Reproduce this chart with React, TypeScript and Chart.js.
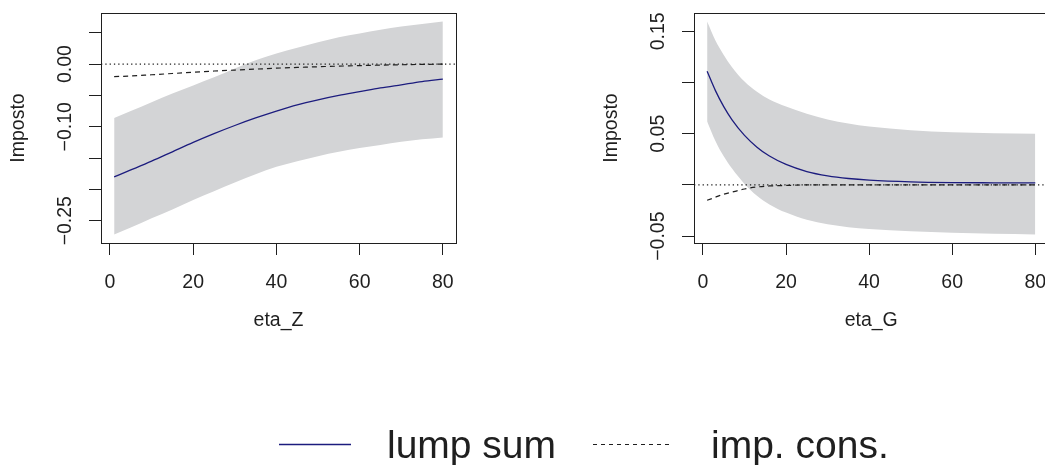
import React, { useEffect, useRef } from "react";
import { Chart, registerables } from "chart.js";

Chart.register(...registerables);

const FONT = "'Liberation Sans', Arial, Helvetica, sans-serif";
const INK = "#1f1f1f";
const BAND = "#d3d4d6";
const NAVY = "#1c1c7e";

// ---------- data: left panel (eta_Z) ----------
const etaZ = [1, 5, 10, 15, 20, 25, 30, 35, 40, 45, 50, 55, 60, 65, 70, 75, 80];
const lumpZ = [-0.180, -0.169, -0.155, -0.140, -0.125, -0.111, -0.098, -0.086, -0.075, -0.065, -0.057, -0.050, -0.044, -0.038, -0.033, -0.028, -0.024];
const consZ = [-0.020, -0.019, -0.017, -0.015, -0.013, -0.011, -0.0095, -0.008, -0.0065, -0.0053, -0.0042, -0.0032, -0.0024, -0.0016, -0.001, -0.0005, 0];
const upperZ = [-0.086, -0.075, -0.061, -0.047, -0.034, -0.021, -0.007, 0.006, 0.017, 0.026, 0.035, 0.043, 0.049, 0.055, 0.060, 0.064, 0.068];
const lowerZ = [-0.272, -0.261, -0.246, -0.232, -0.217, -0.203, -0.189, -0.176, -0.164, -0.155, -0.147, -0.140, -0.134, -0.129, -0.124, -0.120, -0.117];
const yLimZ = [-0.2856, 0.0816];
const yTicksZ = [-0.25, -0.2, -0.15, -0.1, -0.05, 0, 0.05];
const yTickTextZ = ["\u22120.25", "", "", "\u22120.10", "", "0.00", ""];

// ---------- data: right panel (eta_G) ----------
const etaG = [1, 3, 5, 7, 10, 13, 16, 20, 25, 30, 35, 40, 50, 60, 70, 80];
const lumpG = [0.1110, 0.0921, 0.0765, 0.0636, 0.0484, 0.0369, 0.0282, 0.0200, 0.0131, 0.0089, 0.0063, 0.0047, 0.0030, 0.0023, 0.0021, 0.0020];
const consG = [-0.015, -0.012, -0.009, -0.007, -0.004, -0.002, -0.001, -0.0005, 0, 0, 0, 0, 0, 0, 0, 0];
const upperG = [0.1595, 0.1410, 0.1270, 0.1150, 0.1010, 0.0910, 0.0835, 0.0765, 0.0695, 0.0640, 0.0600, 0.0570, 0.0535, 0.0515, 0.0505, 0.0500];
const lowerG = [0.0620, 0.0430, 0.0280, 0.0160, 0.0010, -0.0105, -0.0190, -0.0270, -0.0340, -0.0385, -0.0412, -0.0430, -0.0453, -0.0468, -0.0477, -0.0484];
const yLimG = [-0.0567, 0.1679];
const yTicksG = [-0.05, 0, 0.05, 0.1, 0.15];
const yTickTextG = ["\u22120.05", "", "0.05", "", "0.15"];

// ---------- shared ----------
const xLim = [-2.16, 83.16];
const xTicks = [0, 20, 40, 60, 80];
const xTickText = ["0", "20", "40", "60", "80"];
const yTitle = "Imposto";
const refLine = 0;
const legendLabels = ["lump sum", "imp. cons."];

const boxPlugin = {
  id: "rbox",
  afterDraw(chart: any) {
    const { ctx, chartArea: a } = chart;
    ctx.save();
    ctx.strokeStyle = INK;
    ctx.lineWidth = 1;
    const l = Math.round(a.left) + 0.5;
    const t = Math.round(a.top) + 0.5;
    ctx.strokeRect(l, t, Math.round(a.right) - Math.round(a.left), Math.round(a.bottom) - Math.round(a.top));
    ctx.restore();
  },
};

type PanelProps = {
  left: number;
  width: number;
  height: number;
  xs: number[];
  lump: number[];
  cons: number[];
  upper: number[];
  lower: number[];
  yLim: number[];
  yTicks: number[];
  yTickText: string[];
  xTitle: string;
  area: { left: number; right: number; top: number; bottom: number };
  yTickPad: number;
  yTitlePad: number;
};

function Panel(p: PanelProps) {
  const ref = useRef<HTMLCanvasElement | null>(null);
  useEffect(() => {
    const canvas = ref.current;
    if (!canvas) return;
    const pts = (ys: number[]) => p.xs.map((x, i) => ({ x, y: ys[i] }));
    const tickFont = { family: FONT, size: 19.5 };
    const chart = new Chart(canvas, {
      type: "line",
      data: {
        datasets: [
          {
            label: "zero",
            data: [{ x: xLim[0], y: refLine }, { x: xLim[1], y: refLine }],
            borderColor: INK,
            borderWidth: 1.2,
            borderDash: [1.3, 3],
            pointRadius: 0,
            fill: false,
          },
          {
            label: legendLabels[1],
            data: pts(p.cons),
            borderColor: INK,
            borderWidth: 1.2,
            borderDash: [5, 4],
            pointRadius: 0,
            cubicInterpolationMode: "monotone",
            fill: false,
          },
          {
            label: legendLabels[0],
            data: pts(p.lump),
            borderColor: NAVY,
            borderWidth: 1.3,
            pointRadius: 0,
            cubicInterpolationMode: "monotone",
            fill: false,
          },
          {
            label: "lower",
            data: pts(p.lower),
            borderColor: "rgba(0,0,0,0)",
            borderWidth: 0,
            pointRadius: 0,
            cubicInterpolationMode: "monotone",
            fill: false,
          },
          {
            label: "upper",
            data: pts(p.upper),
            borderColor: "rgba(0,0,0,0)",
            backgroundColor: BAND,
            borderWidth: 0,
            pointRadius: 0,
            cubicInterpolationMode: "monotone",
            fill: "-1",
          },
        ],
      } as any,
      options: {
        animation: false,
        responsive: false,
        events: [],
        layout: {
          padding: { left: 0, top: p.area.top, right: p.width - p.area.right, bottom: 0 },
        },
        plugins: {
          legend: { display: false },
          tooltip: { enabled: false },
          title: { display: false },
        },
        scales: {
          x: {
            type: "linear",
            position: "bottom",
            min: xLim[0],
            max: xLim[1],
            afterBuildTicks: (s: any) => {
              s.ticks = xTicks.map((v) => ({ value: v }));
            },
            afterFit: (s: any) => {
              s.height = p.height - p.area.bottom;
              s.paddingLeft = 0;
              s.paddingRight = 0;
            },
            grid: {
              display: true,
              drawOnChartArea: false,
              drawTicks: true,
              tickLength: 12,
              color: INK,
              lineWidth: 1,
            },
            border: { display: true, color: INK, width: 1 },
            ticks: {
              autoSkip: false,
              maxRotation: 0,
              minRotation: 0,
              padding: 16,
              color: INK,
              font: tickFont,
              callback: (_v: any, i: number) => xTickText[i],
            },
            title: {
              display: true,
              text: p.xTitle,
              color: INK,
              font: tickFont,
              padding: { top: 0, bottom: 17.6 },
            },
          },
          y: {
            type: "linear",
            position: "left",
            min: p.yLim[0],
            max: p.yLim[1],
            afterBuildTicks: (s: any) => {
              s.ticks = p.yTicks.map((v) => ({ value: v }));
            },
            afterFit: (s: any) => {
              s.width = p.area.left;
              s.paddingTop = 0;
              s.paddingBottom = 0;
            },
            grid: {
              display: true,
              drawOnChartArea: false,
              drawTicks: true,
              tickLength: 12,
              color: INK,
              lineWidth: 1,
            },
            border: { display: true, color: INK, width: 1 },
            ticks: {
              autoSkip: false,
              minRotation: 90,
              maxRotation: 90,
              crossAlign: "center",
              padding: p.yTickPad,
              color: INK,
              font: tickFont,
              callback: (_v: any, i: number) => p.yTickText[i],
            },
            title: {
              display: true,
              text: yTitle,
              color: INK,
              font: tickFont,
              padding: { top: p.yTitlePad, bottom: 0 },
            },
          },
        },
      } as any,
      plugins: [boxPlugin],
    });
    return () => chart.destroy();
  }, []);
  return (
    <canvas
      ref={ref}
      width={p.width}
      height={p.height}
      style={{ position: "absolute", left: p.left, top: 0, width: p.width, height: p.height }}
    />
  );
}

export default function App() {
  const legendFont = `39px ${FONT}`;
  return (
    <div
      style={{
        position: "fixed",
        left: 0,
        top: 0,
        width: 1045,
        height: 465,
        overflow: "hidden",
        background: "#ffffff",
      }}
    >
      <Panel
        left={0}
        width={522}
        height={350}
        xs={etaZ}
        lump={lumpZ}
        cons={consZ}
        upper={upperZ}
        lower={lowerZ}
        yLim={yLimZ}
        yTicks={yTicksZ}
        yTickText={yTickTextZ}
        xTitle="eta_Z"
        area={{ left: 101, right: 456, top: 13, bottom: 243 }}
        yTickPad={-1}
        yTitlePad={7.1}
      />
      <Panel
        left={522}
        width={530}
        height={350}
        xs={etaG}
        lump={lumpG}
        cons={consG}
        upper={upperG}
        lower={lowerG}
        yLim={yLimG}
        yTicks={yTicksG}
        yTickText={yTickTextG}
        xTitle="eta_G"
        area={{ left: 172, right: 526.4, top: 13, bottom: 243 }}
        yTickPad={-1}
        yTitlePad={78.3}
      />
      <svg width={1045} height={465} style={{ position: "absolute", left: 0, top: 0 }}>
        <line x1={279} x2={351} y1={444.5} y2={444.5} stroke={NAVY} strokeWidth={1.3} />
        <line x1={593} x2={673} y1={444.5} y2={444.5} stroke={INK} strokeWidth={1.2} strokeDasharray="4 4" />
      </svg>
      <span
        style={{
          position: "absolute",
          left: 387,
          top: 425,
          font: legendFont,
          lineHeight: "39px",
          color: INK,
          whiteSpace: "nowrap",
        }}
      >
        {legendLabels[0]}
      </span>
      <span
        style={{
          position: "absolute",
          left: 711,
          top: 425,
          font: legendFont,
          lineHeight: "39px",
          color: INK,
          whiteSpace: "nowrap",
        }}
      >
        {legendLabels[1]}
      </span>
    </div>
  );
}
